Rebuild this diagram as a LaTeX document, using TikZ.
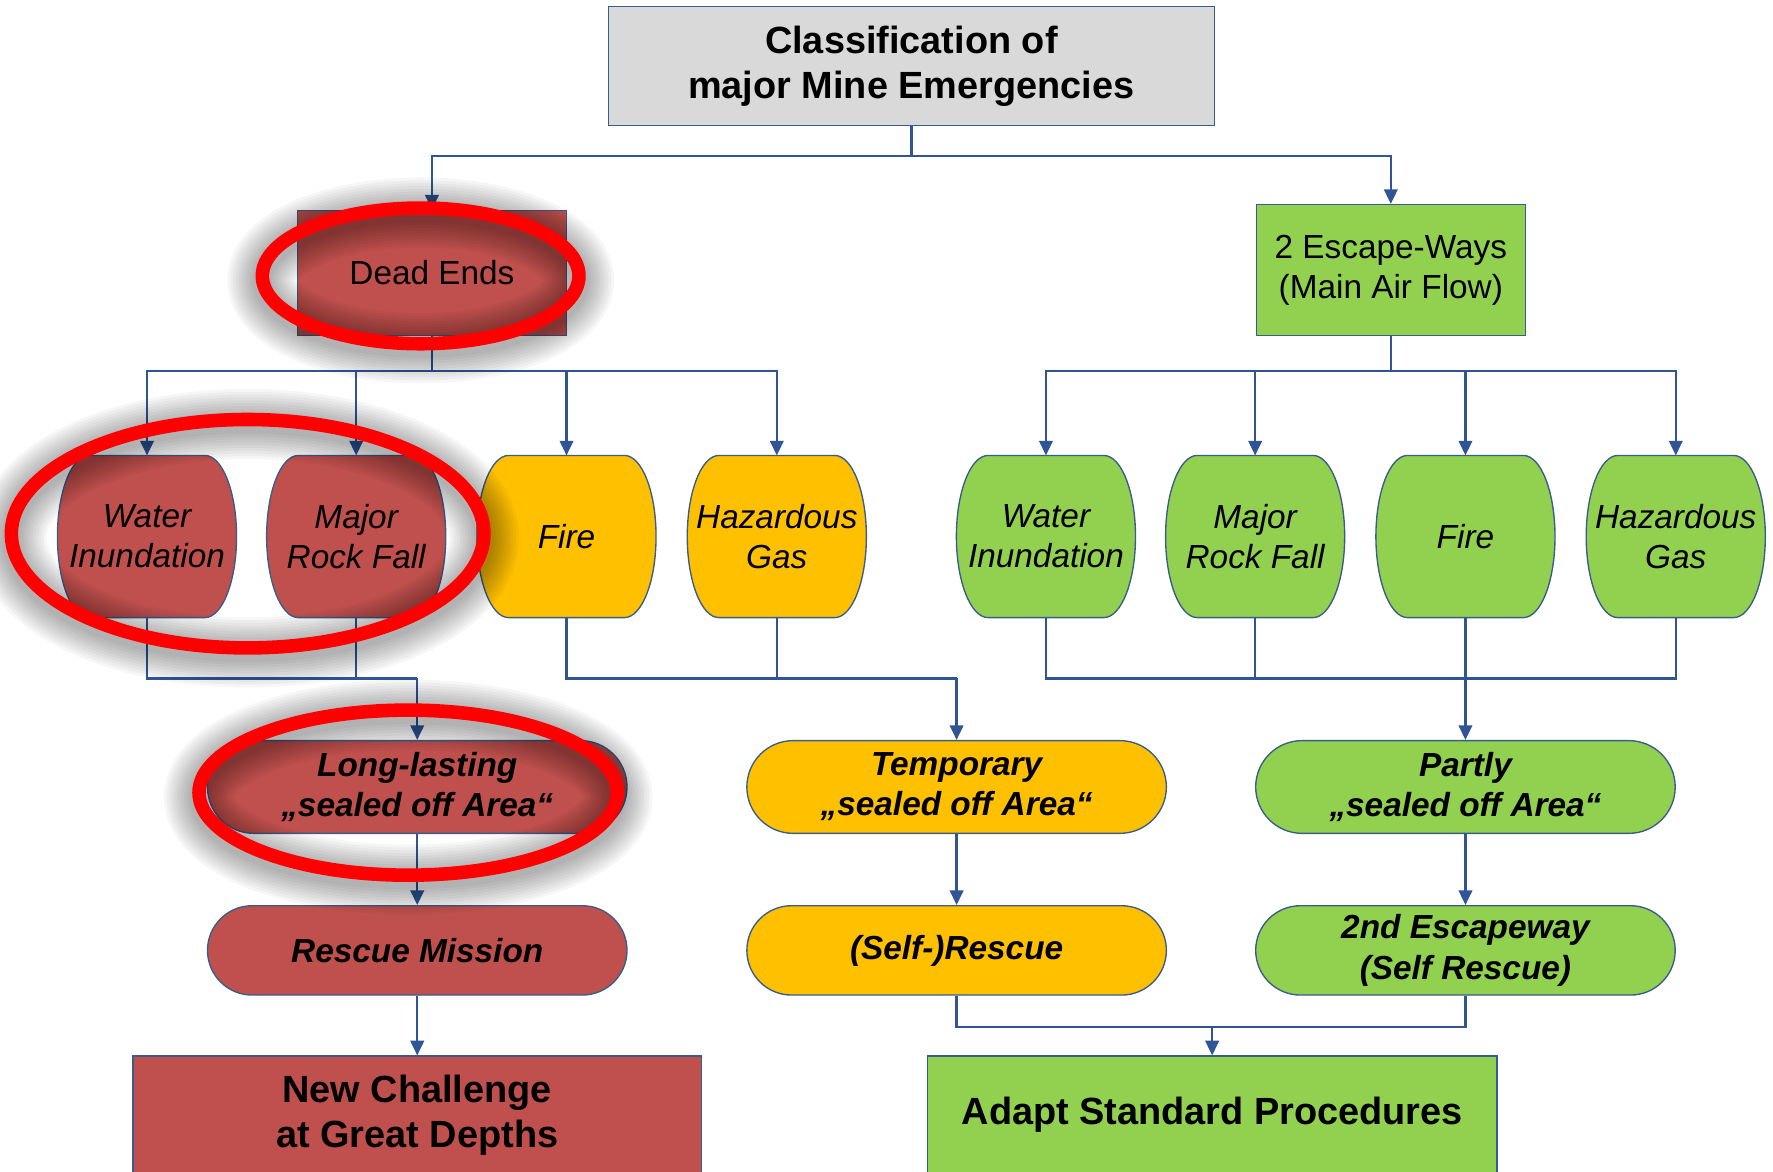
\documentclass[tikz,border=0pt]{standalone}
\usepackage{fontspec}
\setmainfont{Liberation Sans}
\usetikzlibrary{arrows.meta,shapes.misc,calc}
\definecolor{edgeblue}{HTML}{385D8A}
\definecolor{linkblue}{HTML}{2F5597}
\definecolor{redfill}{HTML}{C0504D}
\definecolor{yelfill}{HTML}{FFC000}
\definecolor{grnfill}{HTML}{92D050}
\definecolor{greyfill}{HTML}{D9D9D9}
\pgfdeclarelayer{bg}
\pgfdeclarelayer{fg}
\pgfsetlayers{bg,main,fg}
\newcommand{\bigbold}{\fontsize{33.5}{40}\selectfont\bfseries}
\newcommand{\midfont}{\fontsize{29.5}{35.5}\selectfont}
\newcommand{\barrelshape}[2]{%
\begin{pgfonlayer}{bg}
\draw[fill=#2, draw=edgeblue, line width=1.2pt]
 ($(#1.north west)+(28,0)$) -- ($(#1.north east)+(-28,0)$)
 .. controls ($(#1.north east)+(-12.5,0)$) and ($(#1.east)+(0,39.5)$) .. (#1.east)
 .. controls ($(#1.east)+(0,-39.5)$) and ($(#1.south east)+(-12.5,0)$) .. ($(#1.south east)+(-28,0)$)
 -- ($(#1.south west)+(28,0)$)
 .. controls ($(#1.south west)+(12.5,0)$) and ($(#1.west)+(0,-39.5)$) .. (#1.west)
 .. controls ($(#1.west)+(0,39.5)$) and ($(#1.north west)+(12.5,0)$) .. ($(#1.north west)+(28,0)$) -- cycle;
\end{pgfonlayer}}
\newcommand{\ringglow}[3]{%
\begin{pgfonlayer}{fg}
\foreach \k [evaluate=\k as \lw using 12+5*\k] in {1,...,10} {
  \draw[black, opacity=0.035, line width=\lw pt] ($(#1)+(0,-4)$) ellipse [x radius=#2, y radius=#3];
}
\draw[red, line width=12pt] (#1) ellipse [x radius=#2, y radius=#3];
\end{pgfonlayer}}
\tikzset{
  box/.style={rectangle, draw=edgeblue, line width=1.2pt, inner sep=0pt, align=center, text=black},
  barreltext/.style={rectangle, inner sep=0pt, minimum width=158pt, minimum height=143pt, align=center, font=\midfont\itshape},
  pill/.style={rounded rectangle, draw=edgeblue, line width=1.2pt, minimum width=371pt, inner sep=0pt, align=center, font=\midfont\bfseries\itshape},
  linkline/.style={draw=linkblue, line width=2pt},
  arr/.style={linkline, -{Triangle[length=13pt,width=12pt]}}
}
\begin{document}
\begin{tikzpicture}[x=1pt,y=1pt]
\useasboundingbox (0,0) rectangle (1568,1036);
% top
\node[box, fill=greyfill, line width=1pt, minimum width=536pt, minimum height=105pt, font=\bigbold] (title) at (806,977.5) {Classification of\\major Mine Emergencies};
\node[box, fill=redfill, minimum width=238pt, minimum height=111pt, font=\midfont] (dead) at (382,794.5) {Dead Ends};
\node[box, fill=grnfill, minimum width=238pt, minimum height=116pt, font=\midfont] (esc) at (1230,797) {2 Escape-Ways\\(Main Air Flow)};
% barrels
\node[barreltext] (w1) at (130,561.5) {Water\\Inundation};
\node[barreltext] (m1) at (315,561.5) {Major\\Rock Fall};
\node[barreltext] (f1) at (501,561.5) {Fire};
\node[barreltext] (h1) at (687,561.5) {Hazardous\\Gas};
\node[barreltext] (w2) at (925,561.5) {Water\\Inundation};
\node[barreltext] (m2) at (1110,561.5) {Major\\Rock Fall};
\node[barreltext] (f2) at (1296,561.5) {Fire};
\node[barreltext] (h2) at (1482,561.5) {Hazardous\\Gas};
\barrelshape{w1}{redfill}
\barrelshape{m1}{redfill}
\barrelshape{f1}{yelfill}
\barrelshape{h1}{yelfill}
\barrelshape{w2}{grnfill}
\barrelshape{m2}{grnfill}
\barrelshape{f2}{grnfill}
\barrelshape{h2}{grnfill}
% pills
\node[pill, fill=redfill, minimum height=82pt] (long) at (369,340) {Long-lasting\\„sealed off Area“};
\node[pill, fill=yelfill, minimum height=82pt] (temp) at (846,340) {Temporary\\„sealed off Area“};
\node[pill, fill=grnfill, minimum height=82pt] (part) at (1296,340) {Partly\\„sealed off Area“};
\node[pill, fill=redfill, minimum height=79pt] (resc) at (369,195.5) {Rescue Mission};
\node[pill, fill=yelfill, minimum height=79pt] (self) at (846,195.5) {(Self-)Rescue};
\node[pill, fill=grnfill, minimum height=79pt] (esc2) at (1296,195.5) {2nd Escapeway\\(Self Rescue)};
% bottom
\node[box, fill=redfill, minimum width=503pt, minimum height=104pt, font=\bigbold] (newch) at (369,50) {New Challenge\\at Great Depths};
\node[box, fill=grnfill, minimum width=504pt, minimum height=104pt, font=\bigbold] (adapt) at (1072,50) {Adapt Standard Procedures};
% connectors
\coordinate (tsplit) at (806,898);
\draw[linkline] (title.south) -- (tsplit);
\draw[arr] (tsplit) -| (dead.north);
\draw[arr] (tsplit) -| (esc.north);
\coordinate (dsplit) at (382,708);
\draw[linkline] (dead.south) -- (dsplit);
\foreach \n in {w1,m1,f1,h1} {\draw[arr] (dsplit) -| (\n.north);}
\coordinate (esplit) at (1230,708);
\draw[linkline] (esc.south) -- (esplit);
\foreach \n in {w2,m2,f2,h2} {\draw[arr] (esplit) -| (\n.north);}
\coordinate (j1) at (369,436);
\draw[linkline] (w1.south) |- (j1);
\draw[linkline] (m1.south) |- (j1);
\draw[arr] (j1) -- (long.north);
\coordinate (j2) at (846,436);
\draw[linkline] (f1.south) |- (j2);
\draw[linkline] (h1.south) |- (j2);
\draw[arr] (j2) -- (temp.north);
\coordinate (j3) at (1296,436);
\draw[linkline] (w2.south) |- (j3);
\draw[linkline] (m2.south) |- (j3);
\draw[linkline] (f2.south) -- (j3);
\draw[linkline] (h2.south) |- (j3);
\draw[arr] (j3) -- (part.north);
\draw[arr] (long.south) -- (resc.north);
\draw[arr] (temp.south) -- (self.north);
\draw[arr] (part.south) -- (esc2.north);
\draw[arr] (resc.south) -- (newch.north);
\coordinate (j4) at (1072,128);
\draw[linkline] (self.south) |- (j4);
\draw[linkline] (esc2.south) |- (j4);
\draw[arr] (j4) -- (adapt.north);
% red rings
\coordinate (ring1) at (372,792);
\coordinate (ring2) at (219,564);
\coordinate (ring3) at (361,335);
\ringglow{ring1}{140}{60}
\ringglow{ring2}{209}{101}
\ringglow{ring3}{185}{73}
\end{tikzpicture}
\end{document}
